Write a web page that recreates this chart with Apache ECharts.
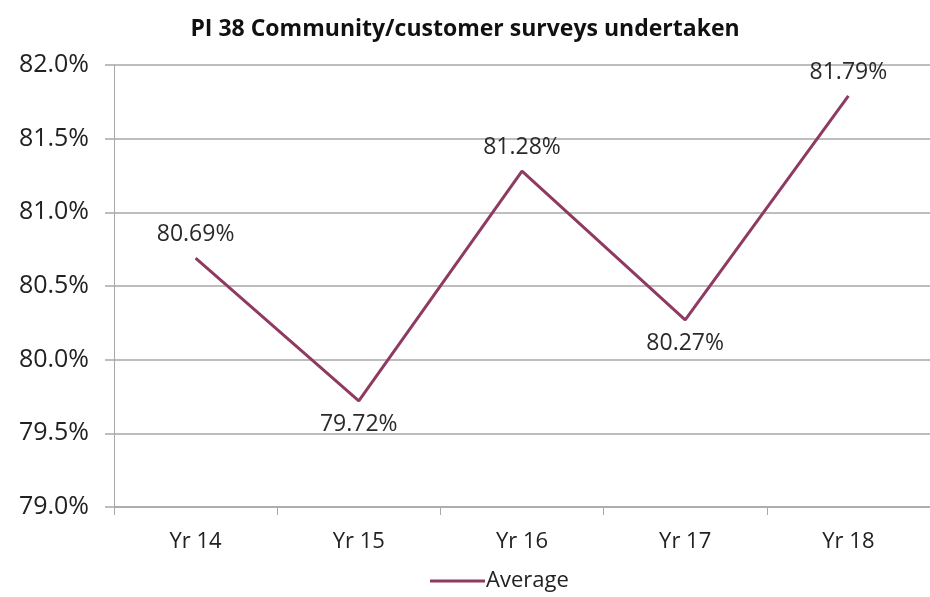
<!DOCTYPE html>
<html>
<head>
<meta charset="utf-8">
<script src="https://cdn.jsdelivr.net/npm/echarts@6/dist/echarts.min.js"></script>
<style>
	html, body { margin: 0; padding: 0; background: #fff; }
	#chart { width: 930px; height: 597px; }
</style>
</head>
<body>
<div id="chart"></div>
<script>
	// data
	var years = ['Yr 14', 'Yr 15', 'Yr 16', 'Yr 17', 'Yr 18'];
	var average = [80.69, 79.72, 81.28, 80.27, 81.79];
	var labelSide = ['top', 'bottom', 'top', 'bottom', 'top'];
	var yTicks = { min: 79, max: 82, step: 0.5 };

	var chart = echarts.init(document.getElementById('chart'));

	var points = average.map(function(v, i){
		return { value: v, label: { position: labelSide[i] } };
	});

	var option = {
		backgroundColor: '#fff',
		animation: false,
		title: {
			text: 'PI 38 Community/customer surveys undertaken',
			left: 'center',
			top: 13,
			textStyle: { fontFamily: 'Open Sans', fontWeight: 'bold', fontSize: 23, color: '#111' }
		},
		legend: {
			bottom: 0,
			left: 425,
			itemWidth: 55,
			itemHeight: 3,
			itemGap: 4,
			icon: 'rect',
			textStyle: { fontFamily: 'Open Sans', fontSize: 22, color: '#222', padding: [0, 0, 0, -4] },
			data: ['Average']
		},
		grid: { left: 114, right: 0, top: 65, bottom: 90 },
		xAxis: {
			type: 'category',
			data: years,
			boundaryGap: true,
			axisLine: { lineStyle: { color: '#a8a8a8', width: 1.5 } },
			axisTick: { show: true, length: 8, lineStyle: { color: '#a8a8a8' } },
			axisLabel: { margin: 24, fontFamily: 'Open Sans', fontSize: 22, color: '#222' }
		},
		yAxis: {
			type: 'value',
			min: yTicks.min,
			max: yTicks.max,
			interval: yTicks.step,
			axisLine: { show: true, lineStyle: { color: '#a8a8a8', width: 1 } },
			axisTick: { show: true, length: 9, lineStyle: { color: '#bdbdbd', width: 2 } },
			splitLine: { lineStyle: { color: '#bdbdbd', width: 2 } },
			axisLabel: {
				margin: 25,
				fontFamily: 'Open Sans',
				fontSize: 25,
				color: '#222',
				formatter: function(v){ return v.toFixed(1) + '%'; }
			}
		},
		series: [{
			name: 'Average',
			type: 'line',
			data: points,
			symbol: 'circle',
			symbolSize: 0.1,
			lineStyle: { color: '#8f3a61', width: 3 },
			itemStyle: { color: '#8f3a61' },
			label: {
				show: true,
				distance: 12,
				fontFamily: 'Open Sans',
				fontSize: 23,
				color: '#2a2a2a',
				formatter: function(p){ return p.value.toFixed(2) + '%'; }
			}
		}]
	};
	chart.setOption(option);
</script>
</body>
</html>
